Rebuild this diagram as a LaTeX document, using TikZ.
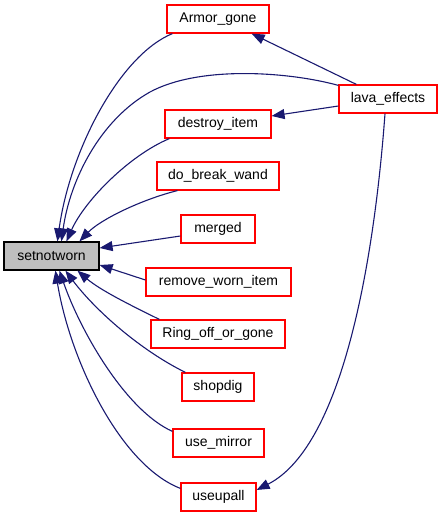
\documentclass[tikz,border=0pt]{standalone}
\usepackage{fontspec}
\setmainfont{Liberation Sans}
\usetikzlibrary{arrows.meta}
\definecolor{edgeblue}{HTML}{191970}
\definecolor{focusgray}{HTML}{BFBFBF}
\begin{document}
\begin{tikzpicture}[x=1pt,y=-1pt,
  fn/.style={draw=red, line width=1.2pt, minimum height=28pt, inner sep=0pt,
    font=\fontsize{14}{16}\selectfont, fill=white},
  focus/.style={fn, draw=black, fill=focusgray},
  edge/.style={draw=edgeblue, line width=1.1pt, -{Triangle[length=13pt,width=10pt]}}]
\useasboundingbox (0,0) rectangle (443,517);
\node[focus, minimum width=95pt] (setnotworn) at (51.5,256) {setnotworn};
\node[fn, minimum width=102pt] (Armor_gone) at (218,19) {Armor\_gone};
\node[fn, minimum width=98pt] (lava_effects) at (388,99) {lava\_effects};
\node[fn, minimum width=106pt] (destroy_item) at (218,124) {destroy\_item};
\node[fn, minimum width=122pt] (do_break_wand) at (218,176) {do\_break\_wand};
\node[fn, minimum width=74pt] (merged) at (218,229) {merged};
\node[fn, minimum width=145pt] (remove_worn_item) at (218.5,282) {remove\_worn\_item};
\node[fn, minimum width=134pt] (Ring_off_or_gone) at (218,334) {Ring\_off\_or\_gone};
\node[fn, minimum width=72pt] (shopdig) at (218,387) {shopdig};
\node[fn, minimum width=91pt] (use_mirror) at (218.5,443) {use\_mirror};
\node[fn, minimum width=75pt] (useupall) at (218.5,497) {useupall};

% edges into setnotworn
\draw[edge] ([xshift=6pt]Armor_gone.south west) .. controls (120,55) and (70,150) .. ([xshift=54pt]setnotworn.north west);
\draw[edge] ([yshift=-1pt]lava_effects.north west) .. controls (290,72) and (200,65) .. (150,92)
   .. controls (100,120) and (70,180) .. ([xshift=58pt]setnotworn.north west);
\draw[edge] ([xshift=5pt]destroy_item.south west) .. controls (130,155) and (85,200) .. ([xshift=63pt]setnotworn.north west);
\draw[edge] ([xshift=21pt]do_break_wand.south west) .. controls (140,200) and (100,220) .. ([xshift=76pt]setnotworn.north west);
\draw[edge] ([yshift=-7pt]merged.west) -- ([yshift=8pt]setnotworn.east);
\draw[edge] ([yshift=2pt]remove_worn_item.west) -- ([yshift=-9pt]setnotworn.east);
\draw[edge] ([xshift=9pt]Ring_off_or_gone.north west) .. controls (130,305) and (100,290) .. ([xshift=74pt]setnotworn.south west);
\draw[edge] ([xshift=4pt]shopdig.north west) .. controls (140,350) and (95,310) .. ([xshift=62pt]setnotworn.south west);
\draw[edge] ([yshift=-3pt]use_mirror.north west) .. controls (125,410) and (80,330) .. ([xshift=56pt]setnotworn.south west);
\draw[edge] ([yshift=-6pt]useupall.north west) .. controls (120,465) and (70,360) .. ([xshift=52pt]setnotworn.south west);

% edges from lava_effects
\draw[edge] ([xshift=18pt]lava_effects.north west) -- ([xshift=-18pt]Armor_gone.south east);
\draw[edge] ([yshift=-7pt]lava_effects.west) -- ([yshift=8pt]destroy_item.east);
\draw[edge] ([xshift=-3pt]lava_effects.south) .. controls (375,250) and (345,445) .. ([yshift=7pt]useupall.east);
\end{tikzpicture}
\end{document}
